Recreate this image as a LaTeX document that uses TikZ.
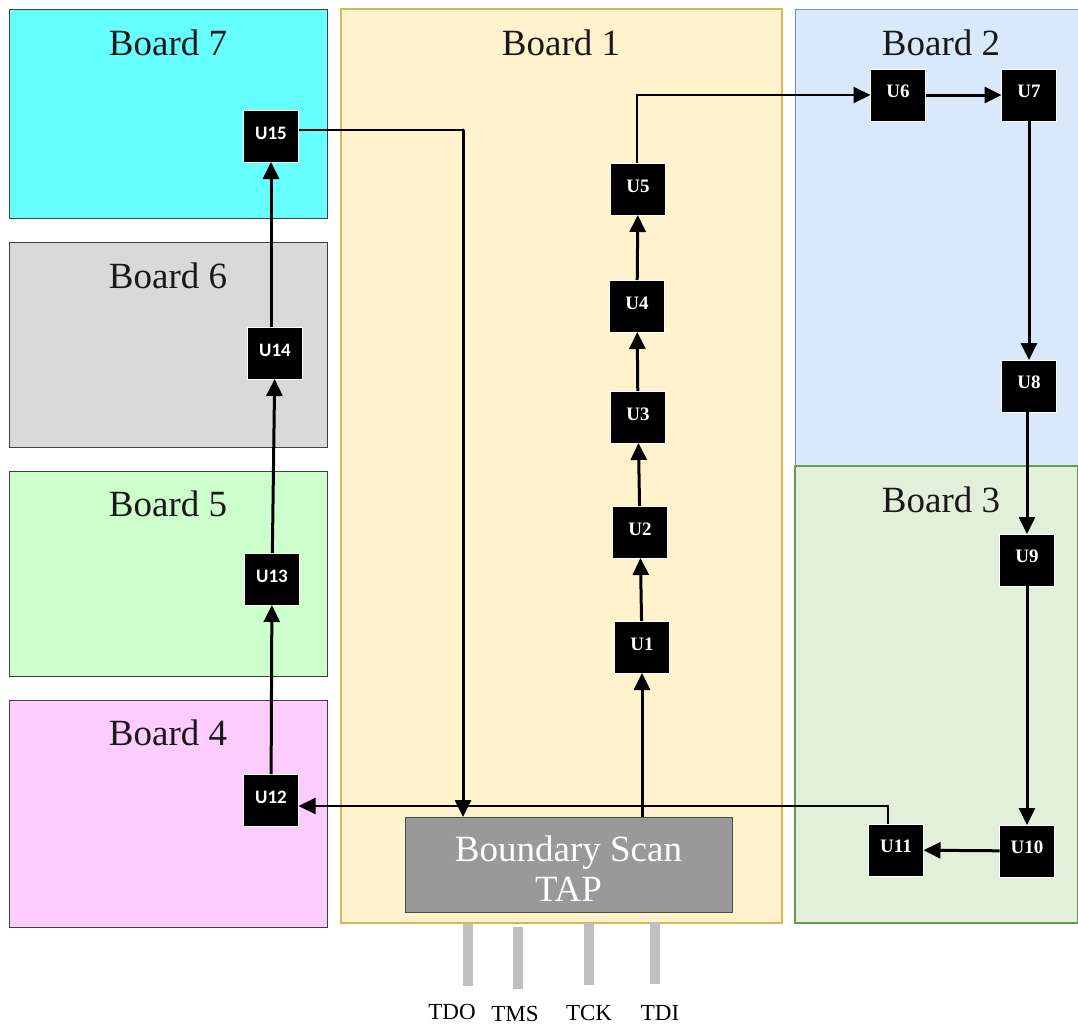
\documentclass[tikz,border=0pt]{standalone}
\usepackage{fontspec}
\setmainfont{Liberation Serif}
\newfontfamily\chipsans{Carlito}
\usetikzlibrary{arrows.meta}
\definecolor{cyanb}{HTML}{66FFFF}
\definecolor{grayb}{HTML}{D9D9D9}
\definecolor{greenb}{HTML}{CCFFCC}
\definecolor{pinkb}{HTML}{FFCCFF}
\definecolor{yellowb}{HTML}{FFF2CC}
\definecolor{yellowe}{HTML}{D6B656}
\definecolor{blueb}{HTML}{DAE8FC}
\definecolor{bluee}{HTML}{6C8EBF}
\definecolor{greenlb}{HTML}{E2EFDA}
\definecolor{greene}{HTML}{6A9A4A}
\definecolor{tapgray}{HTML}{999999}
\definecolor{pingray}{HTML}{BFBFBF}
\begin{document}
\begin{tikzpicture}[x=1pt,y=-1pt,
  board/.style={rectangle, inner sep=0, outer sep=0, anchor=north west, line width=0.9pt},
  blabel/.style={font=\fontsize{37}{40}\selectfont, text=black!90, inner sep=0},
  chip/.style={rectangle, fill=black, draw=white, line width=0.6pt, minimum width=55pt, minimum height=52pt, inner sep=0, outer sep=0, text=white},
  chipserif/.style={chip, font=\fontsize{19}{20}\selectfont\bfseries},
  chipsans/.style={chip, font=\chipsans\fontsize{19}{20}\selectfont\bfseries},
  arr/.style={line width=3pt, -{Triangle[length=17pt,width=16pt]}},
  thinarr/.style={line width=2pt, -{Triangle[length=17pt,width=16pt]}},
  thinline/.style={line width=1.6pt},
  pin/.style={rectangle, fill=pingray, minimum width=10pt, minimum height=62pt, inner sep=0, outer sep=0, anchor=north},
  pinlabel/.style={font=\fontsize{23}{24}\selectfont, inner sep=0}
]
\useasboundingbox (0,0) rectangle (1078,1026);
\fill[white] (0,0) rectangle (1078,1026);

% boards
\node[board, fill=cyanb, draw=black!75, minimum width=318pt, minimum height=209pt] (b7) at (9,9) {};
\node[board, fill=grayb, draw=black!75, minimum width=318pt, minimum height=205pt] (b6) at (9,242) {};
\node[board, fill=greenb, draw=black!75, minimum width=318pt, minimum height=205pt] (b5) at (9,471) {};
\node[board, fill=pinkb, draw=black!75, minimum width=318pt, minimum height=227pt] (b4) at (9,700) {};
\node[board, fill=yellowb, draw=yellowe, line width=1.3pt, minimum width=441pt, minimum height=914pt] (b1) at (341,9) {};
\node[board, fill=blueb, draw=bluee, minimum width=283pt, minimum height=457pt] (b2) at (795,9) {};
\node[board, fill=greenlb, draw=greene, line width=1.2pt, minimum width=283pt, minimum height=457pt] (b3) at (795,466) {};

\node[blabel] (l7) at (168,43) {Board 7};
\node[blabel] (l6) at (168,276) {Board 6};
\node[blabel] (l5) at (168,504) {Board 5};
\node[blabel] (l4) at (168,733) {Board 4};
\node[blabel] (l1) at (561,43) {Board 1};
\node[blabel] (l2) at (941,43) {Board 2};
\node[blabel] (l3) at (941,500) {Board 3};

% TAP
\node[rectangle, fill=tapgray, draw=black!70, line width=1pt, minimum width=327pt, minimum height=95pt, inner sep=0, outer sep=0, anchor=north west] (tap) at (405,817) {};
\node[text=white, align=center, inner sep=0, font=\fontsize{37}{40}\selectfont] (taptext) at ([yshift=-4pt]tap.center) {Boundary Scan\\TAP};

% pins
\node[pin] (tdo) at (468,924) {};
\node[pin] (tms) at (518,927) {};
\node[pin] (tck) at (589,923) {};
\node[pin] (tdi) at (655,922) {};
\node[pinlabel] (ltdo) at (452,1012) {TDO};
\node[pinlabel] (ltms) at (515,1014) {TMS};
\node[pinlabel] (ltck) at (589,1013) {TCK};
\node[pinlabel] (ltdi) at (660,1013) {TDI};

% chips
\node[chipsans] (u15) at (271,136) {\raisebox{5pt}{U15}};
\node[chipsans] (u14) at (275,353) {\raisebox{5pt}{U14}};
\node[chipsans] (u13) at (272,579) {\raisebox{5pt}{U13}};
\node[chipsans] (u12) at (271,800) {\raisebox{5pt}{U12}};
\node[chipserif] (u5) at (638,189) {\raisebox{6pt}{U5}};
\node[chipserif] (u4) at (637,306) {\raisebox{6pt}{U4}};
\node[chipserif] (u3) at (638,417) {\raisebox{6pt}{U3}};
\node[chipserif] (u2) at (640,532) {\raisebox{6pt}{U2}};
\node[chipserif] (u1) at (642,647) {\raisebox{6pt}{U1}};
\node[chipserif] (u6) at (898,95) {\raisebox{8pt}{U6}};
\node[chipserif] (u7) at (1029,95) {\raisebox{8pt}{U7}};
\node[chipserif] (u8) at (1029,386) {\raisebox{8pt}{U8}};
\node[chipserif] (u9) at (1027,560) {\raisebox{8pt}{U9}};
\node[chipserif] (u10) at (1027,851) {\raisebox{8pt}{U10}};
\node[chipserif] (u11) at (896,850) {\raisebox{8pt}{U11}};

% connectors
\draw[arr] (u1.south |- tap.north) -- (u1.south);
\draw[arr] (u1) -- (u2);
\draw[arr] (u2) -- (u3);
\draw[arr] (u3) -- (u4);
\draw[arr] (u4) -- (u5);
\coordinate (c5) at ([xshift=-1pt]u5.north);
\draw[thinarr] (c5) |- (u6.west);
\draw[arr] (u6) -- (u7);
\draw[arr] (u7) -- (u8);
\draw[arr] (u8.south -| u9.north) -- (u9.north);
\draw[arr] (u9) -- (u10);
\draw[arr] (u10) -- (u11);
\coordinate (c11) at ([xshift=-8pt]u11.north);
\draw[thinarr] (c11) |- ([yshift=-6pt]u12.east);
\draw[arr] (u12) -- (u13);
\draw[arr] (u13) -- (u14);
\draw[arr] (u14.north -| u15.south) -- (u15.south);
\coordinate (c15) at (463,130);
\draw[thinline] (u15.east |- c15) -- (c15);
\fill (c15) circle (1.7pt);
\draw[arr] (c15) -- (c15 |- tap.north);
\end{tikzpicture}
\end{document}
